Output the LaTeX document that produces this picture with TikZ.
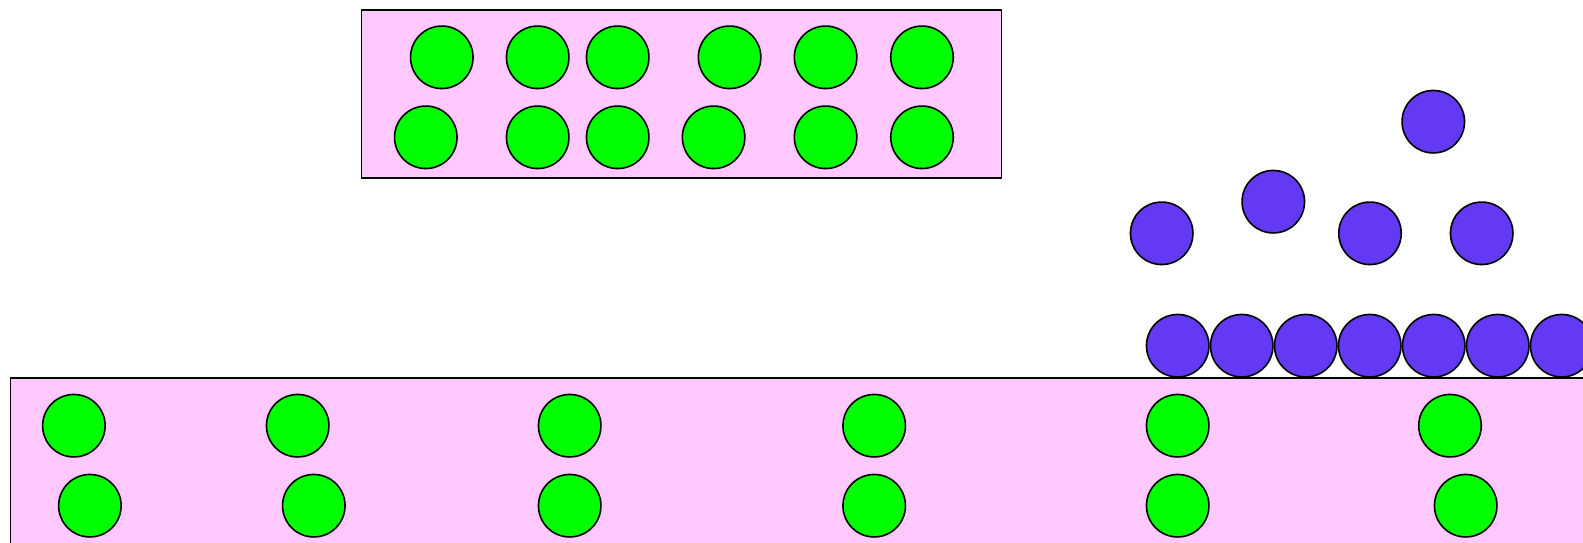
\documentclass[tikz,border=0pt]{standalone}
\definecolor{pinkbg}{HTML}{FFC8FF}
\definecolor{ballgreen}{HTML}{00FF00}
\definecolor{ballpurple}{HTML}{6339F3}
\tikzset{
  box/.style={draw=black, line width=1.6pt, fill=pinkbg},
  gball/.style={circle, draw=black, line width=1.6pt, fill=ballgreen, minimum size=62.5pt, inner sep=0pt},
  pball/.style={circle, draw=black, line width=1.6pt, fill=ballpurple, minimum size=62.5pt, inner sep=0pt}
}
\begin{document}
\begin{tikzpicture}[x=1pt,y=-1pt]
\useasboundingbox (0,0) rectangle (1583,542);
\clip (0,0) rectangle (1583,542);
% top box
\draw[box] (361.5,10) rectangle (1001.5,177.7);
\foreach \x [count=\i] in {441.8,537.7,617.7,729.6,825.6,922}
  \node[gball] (ta\i) at (\x,57.3) {};
\foreach \x [count=\i] in {425.8,537.7,617.7,713.6,825.6,922}
  \node[gball] (tb\i) at (\x,137.3) {};
% bottom box
\draw[box] (10.3,377.7) rectangle (1610,580);
\foreach \x [count=\i] in {73.9,297.7,569.7,874.2,1177.7,1450}
  \node[gball] (ba\i) at (\x,425.7) {};
\foreach \x [count=\i] in {89.9,313.8,569.7,874.2,1177.7,1465.7}
  \node[gball] (bb\i) at (\x,505.7) {};
% purple balls, floating
\node[pball] (p1) at (1433.3,121.7) {};
\node[pball] (p2) at (1273.3,201.7) {};
\node[pball] (p3) at (1161.7,233.3) {};
\node[pball] (p4) at (1370,233.3) {};
\node[pball] (p5) at (1481.7,233.3) {};
% purple row resting on box
\foreach \x [count=\i] in {1177.7,1241.7,1305.7,1369.7,1433.7,1497.7,1561.7}
  \node[pball] (r\i) at (\x,345.7) {};
\end{tikzpicture}
\end{document}
